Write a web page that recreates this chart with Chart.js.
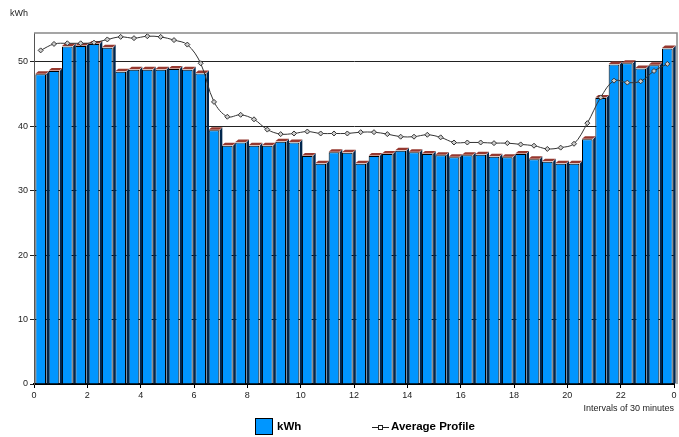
<!DOCTYPE html>
<html>
<head>
<meta charset="utf-8">
<script src="https://cdn.jsdelivr.net/npm/chart.js@4/dist/chart.umd.min.js"></script>
<style>
  html, body { margin: 0; padding: 0; background: #fff; }
</style>
</head>
<body>
<canvas id="chartProfile" width="679" height="437"></canvas>
<script>
// half hour slots, 00:00 .. 23:30
var slots = ['0:00', '0:30', '1:00', '1:30', '2:00', '2:30', '3:00', '3:30', '4:00', '4:30', '5:00', '5:30',
  '6:00', '6:30', '7:00', '7:30', '8:00', '8:30', '9:00', '9:30', '10:00', '10:30', '11:00', '11:30',
  '12:00', '12:30', '13:00', '13:30', '14:00', '14:30', '15:00', '15:30', '16:00', '16:30', '17:00', '17:30',
  '18:00', '18:30', '19:00', '19:30', '20:00', '20:30', '21:00', '21:30', '22:00', '22:30', '23:00', '23:30']

var kwh = [48.1, 48.6, 52.4, 52.5, 52.8, 52.2, 48.5, 48.8, 48.8, 48.8, 48.9, 48.8,
  48.2, 39.4, 37.0, 37.5, 37.0, 37.0, 37.6, 37.5, 35.4, 34.2, 36.0, 35.9,
  34.2, 35.4, 35.7, 36.2, 36.0, 35.7, 35.5, 35.2, 35.5, 35.6, 35.3, 35.2,
  35.7, 34.9, 34.5, 34.2, 34.2, 38.0, 44.4, 49.6, 49.8, 49.0, 49.5, 52.1]

var avgProfile = [51.8, 52.8, 52.9, 52.9, 53.0, 53.5, 53.9, 53.7, 54.0, 53.9, 53.4, 52.7,
  49.8, 43.8, 41.5, 41.8, 41.1, 39.5, 38.8, 38.9, 39.2, 38.9, 38.9, 38.9,
  39.1, 39.1, 38.8, 38.4, 38.4, 38.7, 38.3, 37.5, 37.5, 37.5, 37.4, 37.4,
  37.2, 37.0, 36.5, 36.7, 37.3, 40.5, 44.5, 47.1, 46.8, 47.0, 48.6, 49.7]

var hourTicks = ['0', '2', '4', '6', '8', '10', '12', '14', '16', '18', '20', '22', '0']

var BLUE = '#0096ff'
var FONT = "'Liberation Sans', Arial, sans-serif"

// fake 3d: dark side + red top on every bar
var bars3d = {
  id: 'bars3d',
  afterDatasetDraw: function (chart, args) {
    if (args.index !== 0) return
    var ctx = chart.ctx
    var d = 3
    ctx.save()
    args.meta.data.forEach(function (bar) {
      var p = bar.getProps(['x', 'y', 'base', 'width'], true)
      var l = p.x - p.width / 2
      var r = p.x + p.width / 2
      ctx.fillStyle = '#00264d'
      ctx.beginPath()
      ctx.moveTo(r + 0.5, p.y)
      ctx.lineTo(r + d, p.y - d)
      ctx.lineTo(r + d, p.base)
      ctx.lineTo(r + 0.5, p.base)
      ctx.closePath()
      ctx.fill()
      ctx.fillStyle = '#96382f'
      ctx.beginPath()
      ctx.moveTo(l, p.y - 0.5)
      ctx.lineTo(l + d, p.y - d)
      ctx.lineTo(r + d, p.y - d)
      ctx.lineTo(r, p.y - 0.5)
      ctx.closePath()
      ctx.fill()
    })
    ctx.restore()
  }
}

// frame, unit label and legend
var decor = {
  id: 'decor',
  afterDraw: function (chart) {
    var ctx = chart.ctx
    var a = chart.chartArea
    ctx.save()
    ctx.strokeStyle = '#888'
    ctx.lineWidth = 1.5
    ctx.beginPath()
    ctx.moveTo(a.left, a.top)
    ctx.lineTo(a.right + 3, a.top)
    ctx.lineTo(a.right + 3, a.bottom)
    ctx.stroke()

    ctx.fillStyle = '#222'
    ctx.font = '9px ' + FONT
    ctx.textBaseline = 'alphabetic'
    ctx.fillText('kWh', 10, 16)

    // legend
    var y = 427
    ctx.fillStyle = BLUE
    ctx.fillRect(255, 418, 18, 17)
    ctx.strokeStyle = '#000'
    ctx.lineWidth = 1
    ctx.strokeRect(255.5, 418.5, 17, 16)
    ctx.fillStyle = '#000'
    ctx.font = 'bold 11.5px ' + FONT
    ctx.textBaseline = 'middle'
    ctx.fillText(chart.data.datasets[0].label, 277, y)

    ctx.strokeStyle = '#222'
    ctx.beginPath()
    ctx.moveTo(372, y + 0.5)
    ctx.lineTo(389, y + 0.5)
    ctx.stroke()
    ctx.fillStyle = '#fff'
    ctx.fillRect(378, y - 2, 5, 5)
    ctx.strokeRect(378.5, y - 1.5, 4, 4)
    ctx.fillStyle = '#000'
    ctx.fillText(chart.data.datasets[1].label, 391, y)
    ctx.restore()
  }
}

var profile = document.getElementById('chartProfile').getContext('2d')

var chart = new Chart(profile, {
  type: 'bar',
  data: {
    labels: slots,
    datasets: [
      {
        label: 'kWh',
        data: kwh,
        backgroundColor: BLUE,
        borderColor: '#000',
        borderWidth: 1,
        barPercentage: 0.8,
        categoryPercentage: 1,
        order: 1,
      },
      {
        type: 'line',
        label: 'Average Profile',
        data: avgProfile,
        borderColor: '#333',
        borderWidth: 1,
        tension: 0.35,
        pointStyle: 'rectRot',
        pointRadius: 2.5,
        pointBackgroundColor: '#ccc',
        pointBorderColor: '#333',
        pointBorderWidth: 1,
        order: 0,
      },
    ],
  },
  options: {
    responsive: false,
    animation: false,
    layout: { padding: { top: 33, right: 1, bottom: 23, left: 0 } },
    plugins: {
      legend: { display: false },
      tooltip: { enabled: false },
    },
    scales: {
      x: { display: false, offset: true },
      hours: {
        type: 'linear',
        position: 'bottom',
        min: 0,
        max: 24,
        offset: false,
        z: 1,
        afterFit: function (s) { s.height = 30 },
        ticks: {
          stepSize: 2,
          autoSkip: false,
          maxRotation: 0,
          padding: 2,
          color: '#222',
          font: { family: FONT, size: 9 },
          callback: function (v) { return hourTicks[v / 2] },
        },
        grid: { offset: false, drawOnChartArea: false, tickLength: 4, color: '#000' },
        border: { color: '#000', width: 2 },
        title: {
          display: true,
          text: 'Intervals of 30 minutes',
          align: 'end',
          color: '#222',
          font: { family: FONT, size: 9 },
          padding: { top: 2, bottom: 0 },
        },
      },
      y: {
        min: 0,
        max: 54.5,
        z: 1,
        afterFit: function (s) { s.width = 34 },
        afterBuildTicks: function (s) {
          s.ticks = s.ticks.filter(function (t) { return t.value % 10 === 0 })
        },
        ticks: {
          stepSize: 10,
          padding: 2,
          color: '#222',
          font: { family: FONT, size: 9 },
        },
        grid: { color: '#222', tickLength: 4 },
        border: { color: '#555', width: 1 },
      },
    },
  },
  plugins: [bars3d, decor],
})
</script>
</body>
</html>
